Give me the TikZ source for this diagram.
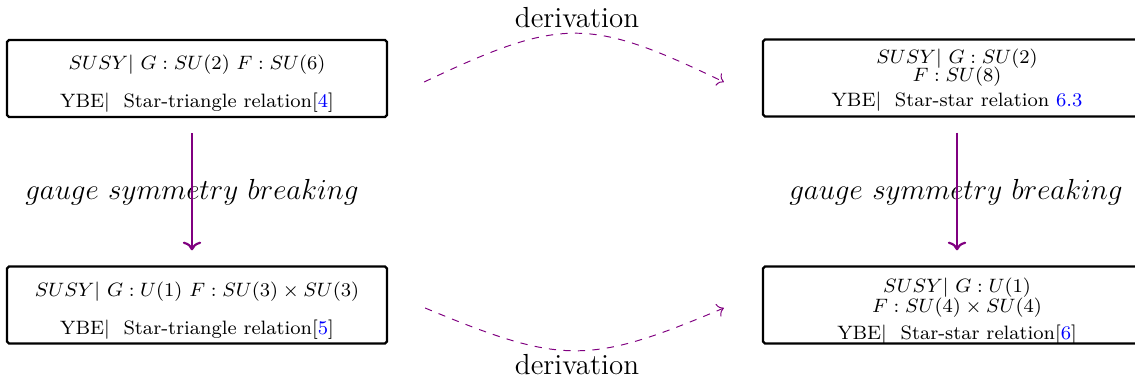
\documentclass[tikz,border=0pt]{standalone}
\usetikzlibrary{calc,arrows.meta}
\begin{document}
\begin{tikzpicture}[x=0.4132pt,y=-0.4132pt,
  box/.style={draw,line width=0.95pt,rounded corners=0.8pt,minimum width=157pt,minimum height=31.8pt,inner sep=0pt},
  boxtext/.style={align=center,font=\footnotesize,inner sep=0pt},
  varrow/.style={-{To[length=3.6pt,width=7.6pt]},line width=0.9pt,violet},
  darrow/.style={-{To[length=2.6pt,width=5.6pt]},dashed,violet},
  lbl/.style={font=\large,inner sep=0pt}]
\useasboundingbox (0,0) rectangle (1135,381);
\clip (0,0) rectangle (1135,381);
% boxes
\node[box] (TL) at (197,78.5) {};
\node[boxtext] (TLt) at (197,83.5) {$SUSY|\ G:SU(2)\ F:SU(6)$\\[6pt] YBE$|$~~Star-triangle relation[\textcolor{blue}{4}]};
\node[box,minimum width=160.3pt] (TR) at (957,78) {};
\node[boxtext] (TRt) at (957,80) {$SUSY|\ G:SU(2)$\\[-2pt] $F:SU(8)$\\[0.5pt] YBE$|$~~Star-star relation \textcolor{blue}{6.3}};
\node[box] (BL) at (197,305) {};
\node[boxtext] (BLt) at (197,310.5) {$SUSY|\ G:U(1)\ F:SU(3)\times SU(3)$\\[6pt] YBE$|$~~Star-triangle relation[\textcolor{blue}{5}]};
\node[box,minimum width=160.3pt] (BR) at (957,305) {};
\node[boxtext] (BRt) at (957,311) {$SUSY|\ G:U(1)$\\[-1pt] $F:SU(4)\times SU(4)$\\[1.5pt] YBE$|$~~Star-star relation[\textcolor{blue}{6}]};
% labels
\node[lbl] (g1) at (192,192) {$gauge\ symmetry\ breaking$};
\node[lbl] (g2) at (956,192) {$gauge\ symmetry\ breaking$};
\node[lbl] (d1) at (577,18) {derivation};
\node[lbl] (d2) at (577,365) {derivation};
% vertical arrows
\draw[varrow,shorten <=6.2pt,shorten >=6.2pt] ([xshift=-2.07pt]TL.south) -- ([xshift=-2.07pt]BL.north);
\draw[varrow,shorten <=6.2pt,shorten >=6.2pt] (TR.south) -- (BR.north);
% derivation arrows
\draw[darrow] ($(TL.east)+(36,3.5)$) .. controls +(137,-65) and +(-135,-65) .. ($(TR.west)+(-38,4)$);
\draw[darrow] ($(BL.east)+(37,3)$) .. controls +(137,57) and +(-135,57) .. ($(BR.west)+(-38,3)$);
\end{tikzpicture}
\end{document}
